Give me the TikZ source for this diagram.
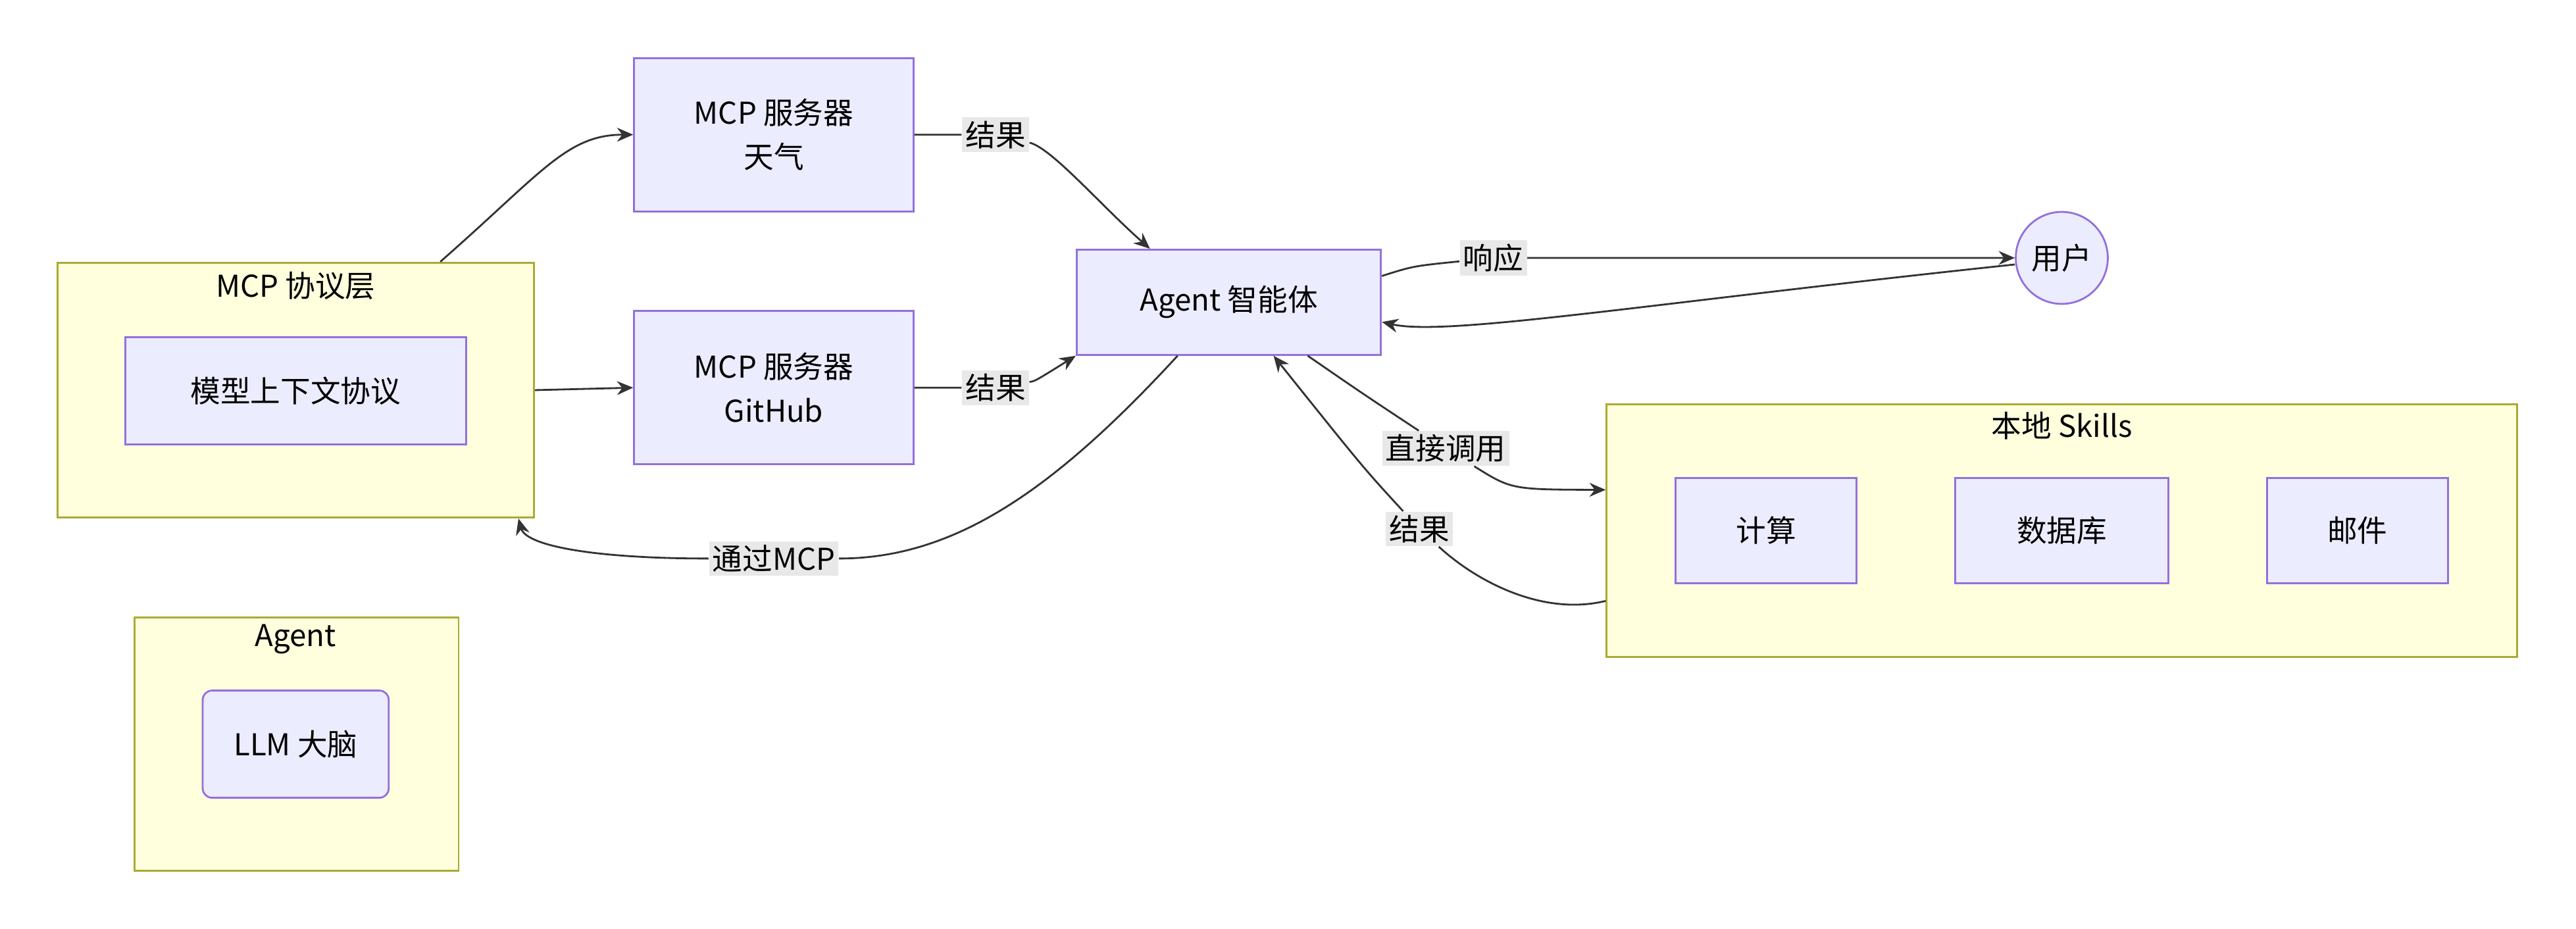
\documentclass[tikz,border=0pt]{standalone}
\usepackage{fontspec}
\setmainfont{Noto Sans CJK SC}
\usetikzlibrary{arrows.meta,positioning}
\definecolor{boxfill}{HTML}{ECECFF}
\definecolor{boxline}{HTML}{9370DB}
\definecolor{grpfill}{HTML}{FFFFDE}
\definecolor{grpline}{HTML}{AAAA33}
\definecolor{lblfill}{HTML}{E8E8E8}
\tikzset{
  box/.style={draw=boxline, fill=boxfill, line width=0.8pt, align=center,
    font=\fontsize{13}{19}\selectfont, inner sep=0pt},
  group/.style={draw=grpline, fill=grpfill, line width=0.8pt, inner sep=0pt},
  grouptitle/.style={font=\fontsize{13}{16}\selectfont, inner sep=1pt},
  lbl/.style={fill=lblfill, font=\fontsize{13}{16}\selectfont, inner sep=1.5pt},
  arr/.style={draw=black!80, line width=0.8pt, -{Stealth[length=7pt,width=6pt]}},
  line/.style={draw=black!80, line width=0.8pt}
}
\begin{document}
\begin{tikzpicture}[x=0.025cm, y=-0.025cm]
  \useasboundingbox (0,0) rectangle (1568,565.5);
  % groups
  \node[group, minimum width=7.25cm, minimum height=3.88cm] (layer) at (180,237.5) {};
  \node[grouptitle] (layerT) at (180,174) {MCP 协议层};
  \node[group, minimum width=4.93cm, minimum height=3.85cm] (agentgrp) at (180.5,453) {};
  \node[grouptitle] (agentgrpT) at (180,389) {Agent};
  \node[group, minimum width=13.85cm, minimum height=3.85cm] (skills) at (1255,323) {};
  \node[grouptitle] (skillsT) at (1255,259) {本地 Skills};
  % nodes
  \node[box, minimum width=5.18cm, minimum height=1.63cm] (protocol) at (180,238) {模型上下文协议};
  \node[box, rounded corners=4pt, minimum width=2.83cm, minimum height=1.63cm] (llm) at (180,453) {LLM 大脑};
  \node[box, minimum width=4.25cm, minimum height=2.33cm] (weather) at (471,82) {MCP 服务器\\天气};
  \node[box, minimum width=4.25cm, minimum height=2.33cm] (github) at (471,236) {MCP 服务器\\GitHub};
  \node[box, minimum width=4.63cm, minimum height=1.6cm] (agent) at (748,184) {Agent 智能体};
  \node[box, circle, minimum size=1.4cm] (user) at (1255,157) {用户};
  \node[box, minimum width=2.75cm, minimum height=1.6cm] (calc) at (1075,323) {计算};
  \node[box, minimum width=3.25cm, minimum height=1.6cm] (db) at (1255,323) {数据库};
  \node[box, minimum width=2.75cm, minimum height=1.6cm] (mail) at (1435,323) {邮件};
  % edge labels
  \node[lbl] (res1) at (606,82) {结果};
  \node[lbl] (res2) at (606,236) {结果};
  \node[lbl] (viamcp) at (471,340) {通过MCP};
  \node[lbl] (reply) at (909,157) {响应};
  \node[lbl] (direct) at (880,273) {直接调用};
  \node[lbl] (res3) at (864,322) {结果};
  % connectors
  \draw[arr] ([xshift=2.2cm]layer.north) .. controls (330,105) and (345,82) .. (weather.west);
  \draw[arr] (layer.east) -- (github.west);
  \draw[arr] (weather.east) -- (res1) .. controls (640,90) and (670,125) .. ([xshift=-1.2cm]agent.north);
  \draw[arr] (github.east) -- (res2) .. controls (630,232) .. (agent.south west);
  \draw[arr] ([xshift=-0.78cm]agent.south) .. controls (640,300) and (580,340) .. (viamcp)
    .. controls (360,340) and (320,332) .. ([xshift=-0.25cm]layer.south east);
  \draw[arr] ([yshift=0.4cm]agent.east) .. controls (860,162) .. (reply) .. controls (1000,157) .. (user.west);
  \draw[arr] ([yshift=-0.1cm]user.west) .. controls (1000,185) and (880,205) .. ([yshift=-0.3cm]agent.east);
  \draw[arr] ([xshift=1.2cm]agent.south) .. controls (830,240) .. (direct) .. controls (920,298) .. ([yshift=0.62cm]skills.west);
  \draw[arr] ([yshift=-1.07cm]skills.west) .. controls (940,375) and (900,355) .. (res3) .. controls (830,285) .. ([xshift=0.68cm]agent.south);
\end{tikzpicture}
\end{document}
